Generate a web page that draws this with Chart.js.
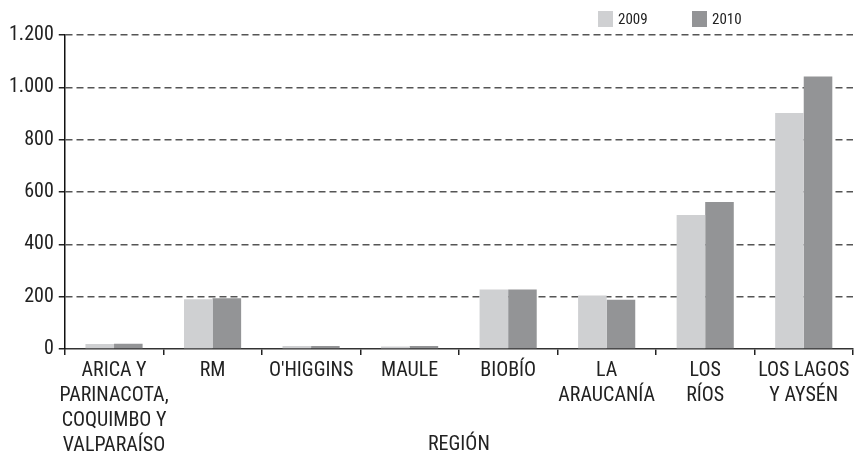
<!DOCTYPE html>
<html>
<head>
<meta charset="utf-8">
<style>
  html, body { margin: 0; padding: 0; background: #fff; }
  #wrap { width: 854px; height: 454px; }
</style>
<script src="https://cdn.jsdelivr.net/npm/chart.js@4"></script>
</head>
<body>
<div id="wrap"><canvas id="chart" width="854" height="454"></canvas></div>
<script>
// regiones (etiquetas en varias lineas)
const regiones = [
	["ARICA Y", "PARINACOTA,", "COQUIMBO Y", "VALPARAÍSO"],
	["RM"],
	["O'HIGGINS"],
	["MAULE"],
	["BIOBÍO"],
	["LA", "ARAUCANÍA"],
	["LOS", "RÍOS"],
	["LOS LAGOS", "Y AYSÉN"]
];
const valores2009 = [19, 190, 11, 10, 227, 204, 512, 902];
const valores2010 = [20, 194, 11, 11, 227, 188, 562, 1041];
const ticksY = [0, 200, 400, 600, 800, 1000, 1200];

const fuente = "'Roboto Condensed', 'DejaVu Sans Condensed', sans-serif";

// leyenda dibujada arriba a la derecha
const leyenda = {
	id: "leyenda",
	afterDraw(chart) {
		const ctx = chart.ctx;
		const pos = [598, 692];
		ctx.save();
		ctx.font = "15px " + fuente;
		ctx.textBaseline = "middle";
		chart.data.datasets.forEach((ds, i) => {
			ctx.fillStyle = ds.backgroundColor;
			ctx.fillRect(pos[i], 11, 15, 16);
			ctx.fillStyle = "#222";
			ctx.fillText(ds.label, pos[i] + 20, 20);
		});
		ctx.restore();
	}
};

new Chart(document.getElementById("chart"), {
	type: "bar",
	data: {
		labels: regiones,
		datasets: [
			{ label: "2009", data: valores2009, backgroundColor: "#cfd0d2" },
			{ label: "2010", data: valores2010, backgroundColor: "#939496" }
		]
	},
	options: {
		responsive: false,
		animation: false,
		layout: { padding: { top: 35, right: 1, left: 4, bottom: 0 } },
		datasets: { bar: { categoryPercentage: 0.58, barPercentage: 1.0 } },
		plugins: { legend: { display: false }, tooltip: { enabled: false } },
		scales: {
			x: {
				grid: {
					offset: true,
					color: (c) => (c.index === regiones.length ? "#222" : "transparent"),
					tickColor: "#222",
					lineWidth: 1.5,
					tickLength: 6
				},
				border: { color: "#333", width: 1.5 },
				ticks: {
					autoSkip: false,
					maxRotation: 0,
					padding: 3,
					color: "#222",
					font: { family: fuente, size: 20, lineHeight: 1.25 }
				},
				title: {
					display: true,
					text: "REGIÓN",
					color: "#222",
					font: { family: fuente, size: 20, lineHeight: 1 },
					padding: { top: -26, bottom: -1 }
				}
			},
			y: {
				min: 0,
				max: 1200,
				afterBuildTicks: (s) => { s.ticks = ticksY.map((v) => ({ value: v })); },
				grid: {
					color: (c) => (c.tick && c.tick.value === 0 ? "transparent" : "#555"),
					tickColor: "#222",
					lineWidth: 1.5,
					tickLength: 6
				},
				border: { color: "#111", width: 1.5, dash: [7, 4] },
				ticks: {
					padding: 5,
					color: "#222",
					font: { family: fuente, size: 20 },
					callback: (v) => v.toLocaleString("de-DE")
				}
			}
		}
	},
	plugins: [leyenda]
});
</script>
</body>
</html>
